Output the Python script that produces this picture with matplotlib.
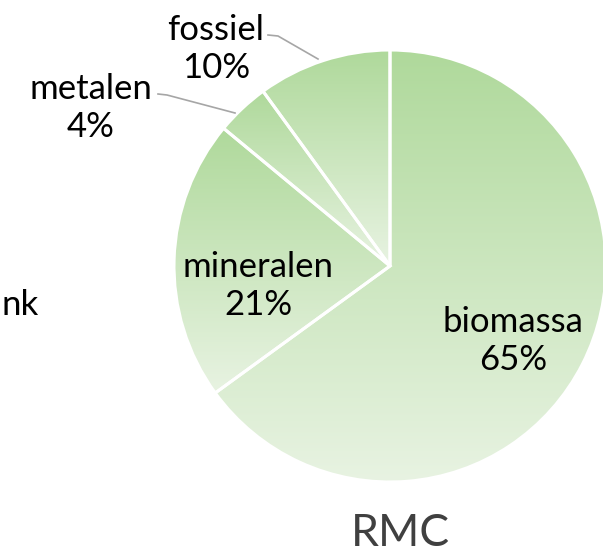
import matplotlib.pyplot as plt
import matplotlib.colors as mcolors
import numpy as np

plt.rcParams['font.family'] = ['Lato', 'DejaVu Sans']

labels = ['biomassa', 'mineralen', 'metalen', 'fossiel']
shares = [65, 21, 4, 10]
title = 'RMC'

W, H = 603, 557
TOP = '#afd99b'
BOTTOM = '#e8f3e2'

fig = plt.figure(figsize=(W / 100, H / 100), dpi=100)
ax = fig.add_axes([0, 0, 1, 1])

# centre / radius in pixel units (y up)
cx, cy, r = 390, H - 266, 216
wedges, _ = ax.pie(shares, startangle=90, counterclock=False, center=(cx, cy),
                   radius=r, frame=True,
                   wedgeprops=dict(facecolor='none', edgecolor='white', linewidth=2.2))

cmap = mcolors.LinearSegmentedColormap.from_list('g', [BOTTOM, TOP])
grad = np.linspace(0, 1, 256).reshape(-1, 1)
for w in wedges:
    w.set_zorder(3)
    bb = w.get_path().get_extents(w.get_patch_transform())
    im = ax.imshow(grad, cmap=cmap, aspect='auto', origin='lower',
                   extent=[bb.x0, bb.x1, bb.y0, bb.y1], zorder=1,
                   interpolation='bicubic')
    im.set_clip_path(w)

ax.set_xlim(0, W)
ax.set_ylim(0, H)
ax.set_aspect('auto')
ax.axis('off')

fs = 25
txt = dict(fontsize=fs, ha='center', va='center', color='black', linespacing=1.25)
ax.text(513, H - 341, f'{labels[0]}\n{shares[0]}%', **txt)
ax.text(258, H - 286, f'{labels[1]}\n{shares[1]}%', **txt)
ax.text(91, H - 108, f'{labels[2]}\n{shares[2]}%', **txt)
ax.text(216, H - 49, f'{labels[3]}\n{shares[3]}%', **txt)

# leader lines
ax.plot([158, 167, 235], [H - 94, H - 95, H - 113], color='#a6a6a6', lw=1.2, zorder=4)
ax.plot([268, 278, 318], [H - 35, H - 36, H - 59], color='#a6a6a6', lw=1.2, zorder=4)

# partial label from neighbouring chart
ax.text(1, H - 305, 'nk', fontsize=fs, ha='left', va='center', color='black')

ax.text(400, H - 533, title, fontsize=32, ha='center', va='center', color='#404040')

fig.savefig('out.png', dpi=100)
